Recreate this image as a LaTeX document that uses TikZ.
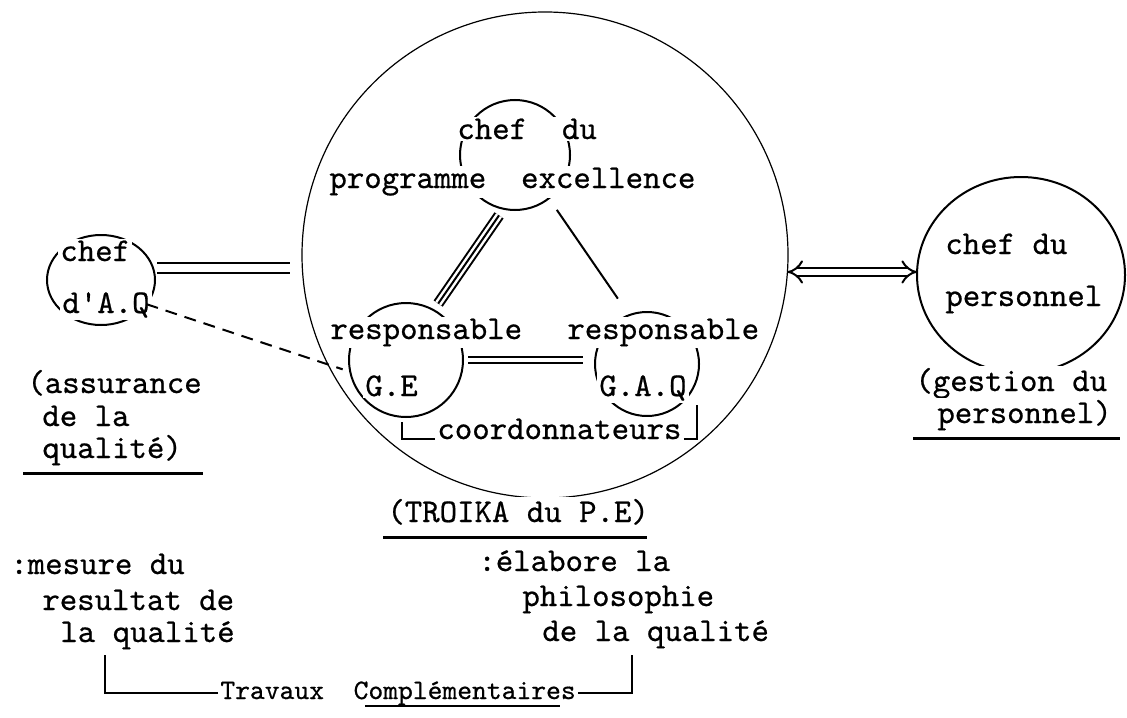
\documentclass[tikz,border=0pt]{standalone}
\usepackage{fontspec}
\newfontfamily\twfamily{lmmono10-regular.otf}[FakeBold=0.6]
\usetikzlibrary{arrows.meta,shapes.geometric}
\newcommand\twtext{\twfamily\fontsize{16.6}{19}\selectfont}
\newcommand\twsmall{\twfamily\fontsize{14.1}{17}\selectfont}

\begin{document}
\begin{tikzpicture}[x=0.5pt,y=-0.5pt,
    ringP/.style={draw,line width=1pt,inner sep=0pt,outer sep=0pt},
    bigRingP/.style={draw,circle,line width=0.6pt,inner sep=0pt,outer sep=0pt},
    txtP/.style={font=\twtext,anchor=base west,fill=white,inner sep=1pt},
    dblP/.style={double,line width=1.2pt,double distance=3.8pt},
    thinDblP/.style={double,line width=1pt,double distance=2pt},
    implP/.style={double,line width=1pt,double distance=3pt,{Implies}-{Implies}},
    dashP/.style={line width=1pt,dash pattern=on 6pt off 4pt},
    lineP/.style={line width=1pt},
    ulP/.style={line width=1.5pt},
]
\useasboundingbox (0,0) rectangle (1127,717);
% circles
\node[bigRingP,minimum size=243pt] (troika) at (545,255) {};
\node[ringP,ellipse,minimum width=54pt,minimum height=45pt] (aq) at (101,280) {};
\node[ringP,circle,minimum size=55pt] (chefpe) at (515,155) {};
\node[ringP,circle,minimum size=57pt] (ge) at (406,360) {};
\node[ringP,circle,minimum size=52pt] (gaq) at (647,364) {};
\node[ringP,ellipse,minimum width=104pt,minimum height=98pt] (pers) at (1021,275) {};
% texts of the left circle
\node[txtP] (chefAQ) at (58,261) {chef};
\node[txtP] (dAQ) at (60,313) {d'A.Q};
\node[txtP] (assur1) at (25,393) {(assurance};
\node[txtP] (assur2) at (40,426) {de la};
\node[txtP] (assur3) at (40,458) {qualité)};
% texts of the troika
\node[txtP] (chefDu) at (455,139) {chef~~du};
\node[txtP] (progExc) at (327,188) {programme~~excellence};
\node[txtP] (respGE) at (328,339) {responsable};
\node[txtP] (respGAQ) at (565,339) {responsable};
\node[txtP] (labGE) at (363,396) {G.E};
\node[txtP] (labGAQ) at (597,396) {G.A.Q};
\node[txtP] (coord) at (435,439) {coordonnateurs};
\node[txtP] (troikaLab) at (385,522) {(TROIKA du P.E)};
% texts of the right circle
\node[txtP] (persChef) at (943,254) {chef du};
\node[txtP] (persPers) at (943,306) {personnel};
\node[txtP] (gest1) at (913,391) {(gestion du};
\node[txtP] (gest2) at (935,423) {personnel)};
% bottom texts
\node[txtP] (mes1) at (8,574) {:mesure du};
\node[txtP] (mes2) at (40,610) {resultat de};
\node[txtP] (mes3) at (58,642) {la qualité};
\node[txtP] (elab1) at (476,571) {:élabore la};
\node[txtP] (elab2) at (520,606) {philosophie};
\node[txtP] (elab3) at (540,641) {de la qualité};
\node[txtP,font=\twsmall] (trav) at (218,699) {Travaux~~Complémentaires};
\coordinate (cL) at (402,422);
\coordinate (cR) at (697,405);
\coordinate (tL) at (105,655);
\coordinate (tR) at (632,655);
% links
\draw[dblP,shorten <=2pt,shorten >=6pt] (aq.13) -- (aq.13 -| troika.west);
\draw[dashP,shorten >=4pt] (aq.-28) -- (ge.192);
\draw[lineP,double,double distance=3.5pt,shorten <=4pt,shorten >=4pt] (chefpe.-102) -- (ge.61);
\draw[lineP,shorten <=4pt,shorten >=4pt] (chefpe.-102) -- (ge.61);
\draw[lineP,shorten <=7pt,shorten >=10pt] (chefpe.-52) -- (gaq.110);
\draw[thinDblP,shorten <=2.5pt,shorten >=6pt] (ge.east) -- (ge.east -| gaq.west);
\draw[implP] (troika.-4) -- (troika.-4 -| pers.west);
% brackets
\draw[lineP] (coord.base west) -| (cL);
\draw[lineP] (coord.base east) -| (cR);
\draw[lineP] (trav.west) -| (tL);
\draw[lineP] (trav.east) -| (tR);
% underlines
\draw[ulP] (23,473) -- (203,473);
\draw[ulP] (913,438) -- (1120,438);
\draw[ulP] (383,537) -- (647,537);
\draw[line width=0.8pt] (365,706) -- (560,706);
\end{tikzpicture}
\end{document}
